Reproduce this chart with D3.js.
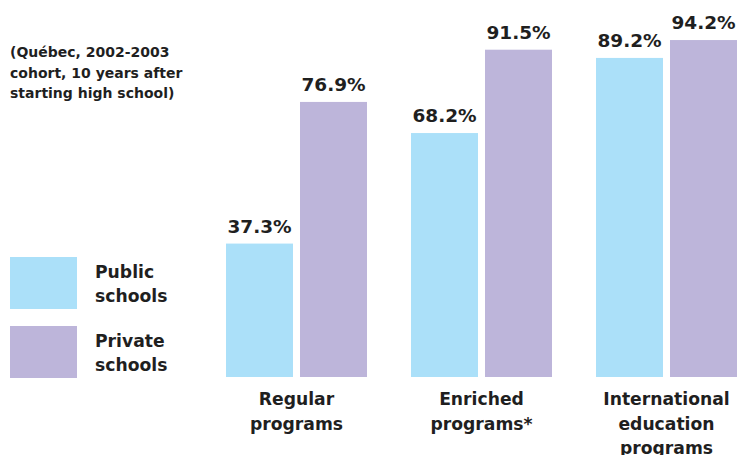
<!DOCTYPE html>
<html>
<head>
<meta charset="utf-8">
<script src="https://cdn.jsdelivr.net/npm/d3@7"></script>
<style>
  body { margin: 0; background: #fff; }
  svg text { font-family: "DejaVu Sans", sans-serif; font-weight: 700; fill: #1f1f1f; }
</style>
</head>
<body>
<svg class="chart" width="739" height="455"></svg>
<script>
// Data
const categories = ['Regular programs', 'Enriched programs*', 'International education programs'];
const categoryLines = [['Regular', 'programs'], ['Enriched', 'programs*'], ['International', 'education', 'programs']];
const seriesNames = ['Public schools', 'Private schools'];
const legendLines = [['Public', 'schools'], ['Private', 'schools']];
const publicValues = [37.3, 68.2, 89.2];
const privateValues = [76.9, 91.5, 94.2];
const subtitleLines = ['(Québec, 2002-2003', 'cohort, 10 years after', 'starting high school)'];

const colors = ['#abe0f9', '#bdb5da'];

const svg = d3.select('.chart');
const baseline = 377;

// Scales
const x0 = d3.scaleBand()
  .domain(categories)
  .range([204, 759])
  .paddingInner(0.2378)
  .paddingOuter(0.1189);

const x1 = d3.scaleBand()
  .domain(seriesNames)
  .range([0, x0.bandwidth()])
  .paddingInner(7 / 74);

const y = d3.scaleLinear()
  .domain([0, 100])
  .range([baseline, baseline - 357.7]);

const color = d3.scaleOrdinal().domain(seriesNames).range(colors);

const rows = [];
categories.forEach((c, i) => {
  rows.push({ cat: c, series: seriesNames[0], value: publicValues[i] });
  rows.push({ cat: c, series: seriesNames[1], value: privateValues[i] });
});

// Bars
svg.append('g')
  .selectAll('rect')
  .data(rows)
  .join('rect')
  .attr('x', d => x0(d.cat) + x1(d.series))
  .attr('y', d => y(d.value))
  .attr('width', x1.bandwidth())
  .attr('height', d => y(0) - y(d.value))
  .attr('fill', d => color(d.series));

// Value labels
svg.append('g')
  .selectAll('text')
  .data(rows)
  .join('text')
  .attr('x', d => x0(d.cat) + x1(d.series) + x1.bandwidth() / 2)
  .attr('y', d => y(d.value) - 11)
  .attr('text-anchor', 'middle')
  .style('font-size', '18.5px')
  .text(d => d.value.toFixed(1) + '%');

// Category labels
const catG = svg.append('g');
categories.forEach((c, i) => {
  const t = catG.append('text')
    .attr('x', x0(c) + x0.bandwidth() / 2)
    .attr('y', 405)
    .attr('text-anchor', 'middle')
    .style('font-size', '17.2px');
  categoryLines[i].forEach((line, j) => {
    t.append('tspan')
      .attr('x', x0(c) + x0.bandwidth() / 2)
      .attr('dy', j === 0 ? 0 : 24.5)
      .text(line);
  });
});

// Subtitle
const sub = svg.append('text')
  .attr('x', 10)
  .attr('y', 57)
  .style('font-size', '14px');
subtitleLines.forEach((line, j) => {
  sub.append('tspan')
    .attr('x', 10)
    .attr('dy', j === 0 ? 0 : 20.5)
    .text(line);
});

// Legend
const legend = svg.append('g')
  .selectAll('g')
  .data(seriesNames)
  .join('g')
  .attr('transform', (d, i) => `translate(10, ${257 + i * 69})`);

legend.append('rect')
  .attr('width', 67)
  .attr('height', 52)
  .attr('fill', d => color(d));

legend.append('text')
  .attr('x', 85)
  .attr('y', 21)
  .style('font-size', '17.2px')
  .each(function(d, i) {
    legendLines[i].forEach((line, j) => {
      d3.select(this).append('tspan')
        .attr('x', 85)
        .attr('dy', j === 0 ? 0 : 24)
        .text(line);
    });
  });
</script>
</body>
</html>
